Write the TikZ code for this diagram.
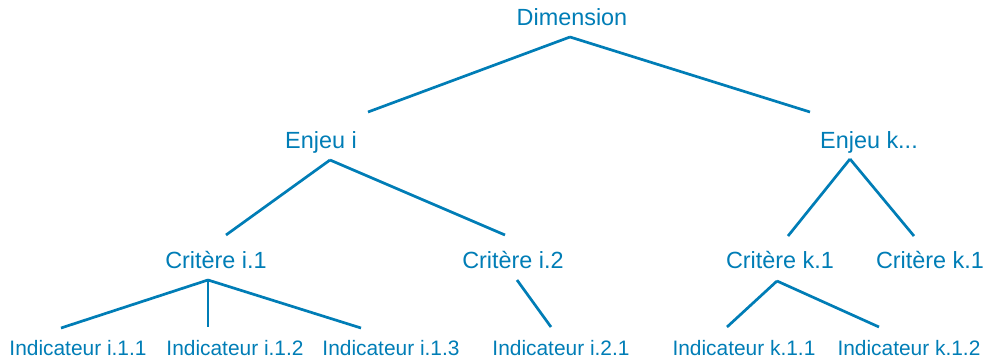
\documentclass[tikz,border=0pt]{standalone}
\usepackage{fontspec}
\setmainfont{Liberation Sans}
\definecolor{bleu}{RGB}{0,125,182}
\begin{document}
\begin{tikzpicture}[x=0.5pt,y=-0.5pt,line width=1.35pt,
    niveau/.style={text=bleu,font=\fontsize{11.7}{14}\selectfont,
      anchor=base,inner sep=0pt},
    feuille/.style={niveau,font=\fontsize{10.45}{12}\selectfont},
    lien/.style={draw=bleu}]
    \useasboundingbox (0,0) rectangle (992,360);
    \foreach \n/\x/\y/\t in {
      dim/572/25/Dimension,
      enjI/321/148/Enjeu i, enjK/869/148/{Enjeu k...},
      critI1/216/268/Critère i.1, critI2/513/268/Critère i.2,
      critK1/780/268/Critère k.1, critK2/930/268/Critère k.1}
      \node[niveau] (\n) at (\x,\y) {\t};
    \foreach \n/\x/\t in {
      indI11/78/Indicateur i.1.1, indI12/235/Indicateur i.1.2,
      indI13/391/Indicateur i.1.3, indI21/561/Indicateur i.2.1,
      indK11/744/Indicateur k.1.1, indK12/909/Indicateur k.1.2}
      \node[feuille] (\n) at (\x,355) {\t};
    % points d'attache des traits
    \foreach \n/\x/\y in {
      dimB/570/37, enjIH/368/112, enjKH/810/112,
      enjIB/330/160, critI1H/226/235, critI2H/505/235,
      enjKB/850/159, critK1H/788/236, critK2H/914/236,
      critI1B/208/280, indI11H/61/328, indI12H/208/327, indI13H/361/328,
      critI2B/517/280, indI21H/551/327,
      critK1B/777/281, indK11H/727/327, indK12H/879/327}
      \coordinate (\n) at (\x,\y);
    \foreach \a/\b in {
      dimB/enjIH, dimB/enjKH,
      enjIB/critI1H, enjIB/critI2H,
      enjKB/critK1H, enjKB/critK2H,
      critI1B/indI11H, critI1B/indI12H, critI1B/indI13H,
      critI2B/indI21H,
      critK1B/indK11H, critK1B/indK12H}
      \draw[lien] (\a) -- (\b);
\end{tikzpicture}
\end{document}
